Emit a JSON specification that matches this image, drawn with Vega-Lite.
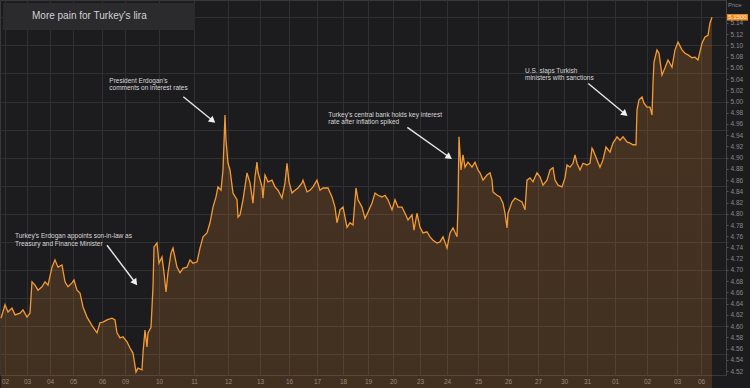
{
"$schema": "https://vega.github.io/schema/vega-lite/v6.json",
"width": 726, "height": 375, "padding": {"left": 0, "top": 0, "right": 24, "bottom": 13}, "autosize": "none",
"background": "#1c1c1f",
"config": {"view": {"stroke": "#38383b"}, "font": "Liberation Sans"},
"datasets": {
"price": [
{"d":-0.18,"v":4.614},{"d":0,"v":4.638},{"d":0.136,"v":4.625},{"d":0.318,"v":4.632},{"d":0.455,"v":4.620},{"d":0.682,"v":4.623},{"d":0.818,"v":4.629},{"d":1.0,"v":4.616},{"d":1.130,"v":4.623},{"d":1.217,"v":4.679},{"d":1.348,"v":4.673},{"d":1.478,"v":4.664},{"d":1.652,"v":4.670},{"d":1.783,"v":4.679},{"d":1.913,"v":4.673},{"d":2.087,"v":4.705},{"d":2.217,"v":4.718},{"d":2.348,"v":4.705},{"d":2.522,"v":4.709},{"d":2.652,"v":4.679},{"d":2.783,"v":4.670},{"d":2.957,"v":4.677},{"d":3.034,"v":4.682},{"d":3.138,"v":4.664},{"d":3.241,"v":4.659},{"d":3.345,"v":4.634},{"d":3.483,"v":4.616},{"d":3.586,"v":4.607},{"d":3.690,"v":4.598},{"d":3.828,"v":4.588},{"d":3.931,"v":4.606},{"d":4.043,"v":4.607},{"d":4.217,"v":4.611},{"d":4.435,"v":4.614},{"d":4.565,"v":4.611},{"d":4.652,"v":4.588},{"d":4.783,"v":4.579},{"d":4.913,"v":4.581},{"d":5.059,"v":4.572},{"d":5.147,"v":4.561},{"d":5.235,"v":4.552},{"d":5.324,"v":4.518},{"d":5.382,"v":4.525},{"d":5.5,"v":4.522},{"d":5.529,"v":4.552},{"d":5.588,"v":4.593},{"d":5.647,"v":4.563},{"d":5.676,"v":4.588},{"d":5.765,"v":4.598},{"d":5.824,"v":4.670},{"d":5.853,"v":4.741},{"d":5.941,"v":4.748},{"d":6.0,"v":4.712},{"d":6.086,"v":4.723},{"d":6.143,"v":4.695},{"d":6.2,"v":4.661},{"d":6.257,"v":4.695},{"d":6.343,"v":4.730},{"d":6.4,"v":4.739},{"d":6.514,"v":4.705},{"d":6.6,"v":4.695},{"d":6.686,"v":4.703},{"d":6.8,"v":4.705},{"d":6.886,"v":4.718},{"d":6.971,"v":4.712},{"d":7.088,"v":4.714},{"d":7.176,"v":4.739},{"d":7.265,"v":4.759},{"d":7.382,"v":4.766},{"d":7.471,"v":4.784},{"d":7.559,"v":4.812},{"d":7.647,"v":4.830},{"d":7.706,"v":4.848},{"d":7.794,"v":4.842},{"d":7.853,"v":4.878},{"d":7.912,"v":4.976},{"d":7.941,"v":4.931},{"d":8.0,"v":4.890},{"d":8.063,"v":4.878},{"d":8.156,"v":4.837},{"d":8.281,"v":4.825},{"d":8.313,"v":4.794},{"d":8.375,"v":4.798},{"d":8.469,"v":4.825},{"d":8.594,"v":4.873},{"d":8.688,"v":4.855},{"d":8.781,"v":4.819},{"d":8.844,"v":4.866},{"d":8.906,"v":4.892},{"d":8.938,"v":4.874},{"d":9.069,"v":4.848},{"d":9.103,"v":4.828},{"d":9.172,"v":4.869},{"d":9.276,"v":4.857},{"d":9.414,"v":4.860},{"d":9.517,"v":4.848},{"d":9.621,"v":4.842},{"d":9.759,"v":4.828},{"d":9.862,"v":4.855},{"d":9.931,"v":4.890},{"d":10.0,"v":4.857},{"d":10.107,"v":4.837},{"d":10.214,"v":4.842},{"d":10.321,"v":4.846},{"d":10.464,"v":4.855},{"d":10.5,"v":4.860},{"d":10.643,"v":4.839},{"d":10.75,"v":4.842},{"d":10.857,"v":4.848},{"d":11.0,"v":4.860},{"d":11.115,"v":4.842},{"d":11.231,"v":4.846},{"d":11.423,"v":4.846},{"d":11.577,"v":4.830},{"d":11.692,"v":4.812},{"d":11.769,"v":4.784},{"d":11.885,"v":4.807},{"d":12.0,"v":4.812},{"d":12.16,"v":4.776},{"d":12.28,"v":4.784},{"d":12.4,"v":4.780},{"d":12.52,"v":4.846},{"d":12.6,"v":4.825},{"d":12.76,"v":4.812},{"d":12.88,"v":4.792},{"d":13.0,"v":4.803},{"d":13.16,"v":4.819},{"d":13.28,"v":4.837},{"d":13.4,"v":4.833},{"d":13.56,"v":4.830},{"d":13.68,"v":4.833},{"d":13.8,"v":4.825},{"d":13.96,"v":4.807},{"d":14.074,"v":4.825},{"d":14.185,"v":4.812},{"d":14.333,"v":4.812},{"d":14.444,"v":4.801},{"d":14.556,"v":4.789},{"d":14.704,"v":4.798},{"d":14.778,"v":4.771},{"d":14.889,"v":4.801},{"d":15.0,"v":4.776},{"d":15.111,"v":4.766},{"d":15.259,"v":4.768},{"d":15.370,"v":4.759},{"d":15.481,"v":4.753},{"d":15.630,"v":4.748},{"d":15.741,"v":4.750},{"d":15.852,"v":4.759},{"d":16.0,"v":4.739},{"d":16.097,"v":4.766},{"d":16.194,"v":4.775},{"d":16.323,"v":4.759},{"d":16.355,"v":4.812},{"d":16.387,"v":4.937},{"d":16.452,"v":4.878},{"d":16.516,"v":4.905},{"d":16.581,"v":4.883},{"d":16.677,"v":4.892},{"d":16.806,"v":4.883},{"d":16.903,"v":4.892},{"d":17.0,"v":4.878},{"d":17.067,"v":4.873},{"d":17.167,"v":4.860},{"d":17.3,"v":4.869},{"d":17.4,"v":4.873},{"d":17.467,"v":4.860},{"d":17.5,"v":4.839},{"d":17.633,"v":4.833},{"d":17.733,"v":4.830},{"d":17.833,"v":4.819},{"d":17.9,"v":4.801},{"d":17.967,"v":4.775},{"d":18.0,"v":4.801},{"d":18.133,"v":4.821},{"d":18.233,"v":4.828},{"d":18.333,"v":4.825},{"d":18.467,"v":4.821},{"d":18.567,"v":4.807},{"d":18.633,"v":4.860},{"d":18.733,"v":4.864},{"d":18.833,"v":4.857},{"d":18.967,"v":4.873},{"d":19.077,"v":4.866},{"d":19.192,"v":4.851},{"d":19.346,"v":4.860},{"d":19.462,"v":4.878},{"d":19.577,"v":4.882},{"d":19.654,"v":4.860},{"d":19.769,"v":4.851},{"d":19.923,"v":4.848},{"d":20.043,"v":4.864},{"d":20.130,"v":4.887},{"d":20.261,"v":4.883},{"d":20.391,"v":4.890},{"d":20.478,"v":4.905},{"d":20.565,"v":4.890},{"d":20.696,"v":4.878},{"d":20.826,"v":4.890},{"d":21.0,"v":4.887},{"d":21.107,"v":4.890},{"d":21.179,"v":4.917},{"d":21.214,"v":4.914},{"d":21.357,"v":4.896},{"d":21.464,"v":4.883},{"d":21.571,"v":4.896},{"d":21.679,"v":4.919},{"d":21.821,"v":4.910},{"d":21.929,"v":4.926},{"d":22.063,"v":4.937},{"d":22.156,"v":4.931},{"d":22.25,"v":4.937},{"d":22.375,"v":4.928},{"d":22.469,"v":4.926},{"d":22.563,"v":4.923},{"d":22.656,"v":4.923},{"d":22.688,"v":4.985},{"d":22.75,"v":5.003},{"d":22.844,"v":5.008},{"d":22.906,"v":4.997},{"d":23.0,"v":4.990},{"d":23.1,"v":4.990},{"d":23.167,"v":4.976},{"d":23.2,"v":5.033},{"d":23.233,"v":5.070},{"d":23.333,"v":5.092},{"d":23.4,"v":5.086},{"d":23.5,"v":5.047},{"d":23.6,"v":5.060},{"d":23.7,"v":5.074},{"d":23.833,"v":5.061},{"d":23.933,"v":5.092},{"d":24.042,"v":5.106},{"d":24.208,"v":5.092},{"d":24.333,"v":5.086},{"d":24.458,"v":5.083},{"d":24.625,"v":5.078},{"d":24.75,"v":5.079},{"d":24.875,"v":5.074},{"d":25.037,"v":5.104},{"d":25.148,"v":5.115},{"d":25.259,"v":5.118},{"d":25.333,"v":5.140},{"d":25.407,"v":5.150}
],
"notes": [
{"d":0.455,"v":4.765,"label":"Turkey's Erdogan appoints son-in-law as\nTreasury and Finance Minister"},
{"d":4.317,"v":5.042,"label":"President Erdogan's\ncomments on interest rates"},
{"d":11.435,"v":4.982,"label":"Turkey's central bank holds key interest\nrate after inflation spiked"},
{"d":18.567,"v":5.060,"label":"U.S. slaps Turkish\nministers with sanctions"}
],
"arrows": [
{"d":4.217,"v":4.744,"d2":5.282,"v2":4.679,"angle":143},
{"d":6.694,"v":5.0085,"d2":7.526,"v2":4.967,"angle":129},
{"d":14.530,"v":4.954,"d2":16.045,"v2":4.902,"angle":125},
{"d":21.046,"v":5.032,"d2":22.288,"v2":4.979,"angle":130}
],
"titlebox": [{"d":-0.091,"d2":7.029,"v":5.1754,"v2":5.1273}],
"titletext": [{"d":1.217,"v":5.152,"label":"More pain for Turkey's lira"}],
"pricebox": [{"d":25.963,"d2":26.741,"v":5.1558,"v2":5.1442}],
"pricetext": [{"d":26.35,"v":5.150,"label":"5.1500"}],
"header": [{"d":26.0,"v":5.172,"label":"Price"}]
},
"resolve": {"axis": {"x": "independent", "y": "independent"}},
"layer": [
{
"data": {"name": "price"},
"mark": {"type": "area", "fill": {"gradient": "linear", "x1": 0, "y1": 0, "x2": 0, "y2": 1, "stops": [{"offset": 0, "color": "rgba(240,140,40,0.20)"}, {"offset": 1, "color": "rgba(240,140,40,0.02)"}]}},
"encoding": {
"x": {"field": "d", "type": "quantitative", "scale": {"domain":[-0.227,0,1,2,3,4,5,6,7,8,9,10,11,12,13,14,15,16,17,18,19,20,21,22,23,24,25,26],"range":[0,5,27,50,73,102,125,159,194,228,260,289,317,343,368,393,420,447,478,508,538,564,587,615,647,677,701,728],"nice":false,"zero":false},
"axis": {"orient": "bottom", "title": null, "values": [0,1,2,3,4,5,6,7,8,9,10,11,12,13,14,15,16,17,18,19,20,21,22,23,24,25], "labelExpr": "['02','03','04','05','06','09','10','11','12','13','16','17','18','19','20','23','24','25','26','27','30','31','01','02','03','06'][datum.value]", "grid": true, "gridColor": "#303033", "ticks": false, "domain": false, "labelFontSize": 6.5, "labelColor": "#8a8a8a", "labelPadding": 3, "labelFlush": false, "labelOverlap": false}},
"y": {"field": "v", "type": "quantitative", "scale": {"domain": [4.5129, 5.1808], "nice": false, "zero": false},
"axis": {"orient": "left", "title": null, "values": [4.55,4.6,4.65,4.7,4.75,4.8,4.85,4.9,4.95,5.0,5.05,5.1,5.15], "grid": true, "gridColor": "#303033", "labels": false, "ticks": false, "domain": false}}
}
},
{
"data": {"name": "price"},
"mark": {"type": "line", "color": "#f39a35", "strokeWidth": 1.3},
"encoding": {
"x": {"field": "d", "type": "quantitative", "scale": {"domain":[-0.227,0,1,2,3,4,5,6,7,8,9,10,11,12,13,14,15,16,17,18,19,20,21,22,23,24,25,26],"range":[0,5,27,50,73,102,125,159,194,228,260,289,317,343,368,393,420,447,478,508,538,564,587,615,647,677,701,728],"nice":false,"zero":false}, "axis": null},
"y": {"field": "v", "type": "quantitative", "scale": {"domain": [4.5129, 5.1808], "nice": false, "zero": false},
"axis": {"orient": "right", "title": null, "values": [4.52,4.54,4.56,4.58,4.6,4.62,4.64,4.66,4.68,4.7,4.72,4.74,4.76,4.78,4.8,4.82,4.84,4.86,4.88,4.9,4.92,4.94,4.96,4.98,5.0,5.02,5.04,5.06,5.08,5.1,5.12,5.14], "format": ".2f", "grid": false, "ticks": true, "tickSize": 2, "tickColor": "#555", "domain": true, "domainColor": "#444", "labelFontSize": 6.5, "labelColor": "#8a8a8a", "labelPadding": 2, "labelOverlap": false, "labelFlush": false}}
}
},
{
"data": {"name": "arrows"},
"mark": {"type": "rule", "color": "#e6e6e6", "strokeWidth": 1.4},
"encoding": {
"x": {"field": "d", "type": "quantitative", "scale": {"domain":[-0.227,0,1,2,3,4,5,6,7,8,9,10,11,12,13,14,15,16,17,18,19,20,21,22,23,24,25,26],"range":[0,5,27,50,73,102,125,159,194,228,260,289,317,343,368,393,420,447,478,508,538,564,587,615,647,677,701,728],"nice":false,"zero":false}, "axis": null},
"x2": {"field": "d2"},
"y": {"field": "v", "type": "quantitative", "scale": {"domain": [4.5129, 5.1808], "nice": false, "zero": false}, "axis": null},
"y2": {"field": "v2"}
}
},
{
"data": {"name": "arrows"},
"mark": {"type": "point", "shape": "triangle", "filled": true, "color": "#f0f0f0", "opacity": 1, "size": 55},
"encoding": {
"x": {"field": "d2", "type": "quantitative", "scale": {"domain":[-0.227,0,1,2,3,4,5,6,7,8,9,10,11,12,13,14,15,16,17,18,19,20,21,22,23,24,25,26],"range":[0,5,27,50,73,102,125,159,194,228,260,289,317,343,368,393,420,447,478,508,538,564,587,615,647,677,701,728],"nice":false,"zero":false}, "axis": null},
"y": {"field": "v2", "type": "quantitative", "scale": {"domain": [4.5129, 5.1808], "nice": false, "zero": false}, "axis": null},
"angle": {"field": "angle", "type": "quantitative", "scale": null}
}
},
{
"data": {"name": "notes"},
"mark": {"type": "text", "align": "left", "baseline": "top", "fontSize": 6.5, "lineHeight": 7.5, "lineBreak": "\n", "color": "#d8d8d8"},
"encoding": {
"x": {"field": "d", "type": "quantitative", "scale": {"domain":[-0.227,0,1,2,3,4,5,6,7,8,9,10,11,12,13,14,15,16,17,18,19,20,21,22,23,24,25,26],"range":[0,5,27,50,73,102,125,159,194,228,260,289,317,343,368,393,420,447,478,508,538,564,587,615,647,677,701,728],"nice":false,"zero":false}, "axis": null},
"y": {"field": "v", "type": "quantitative", "scale": {"domain": [4.5129, 5.1808], "nice": false, "zero": false}, "axis": null},
"text": {"field": "label"}
}
},
{
"data": {"name": "titlebox"},
"mark": {"type": "rect", "color": "#2b2b2e"},
"encoding": {
"x": {"field": "d", "type": "quantitative", "scale": {"domain":[-0.227,0,1,2,3,4,5,6,7,8,9,10,11,12,13,14,15,16,17,18,19,20,21,22,23,24,25,26],"range":[0,5,27,50,73,102,125,159,194,228,260,289,317,343,368,393,420,447,478,508,538,564,587,615,647,677,701,728],"nice":false,"zero":false}, "axis": null},
"x2": {"field": "d2"},
"y": {"field": "v", "type": "quantitative", "scale": {"domain": [4.5129, 5.1808], "nice": false, "zero": false}, "axis": null},
"y2": {"field": "v2"}
}
},
{
"data": {"name": "titletext"},
"mark": {"type": "text", "align": "left", "baseline": "middle", "fontSize": 10, "color": "#d2d2d2"},
"encoding": {
"x": {"field": "d", "type": "quantitative", "scale": {"domain":[-0.227,0,1,2,3,4,5,6,7,8,9,10,11,12,13,14,15,16,17,18,19,20,21,22,23,24,25,26],"range":[0,5,27,50,73,102,125,159,194,228,260,289,317,343,368,393,420,447,478,508,538,564,587,615,647,677,701,728],"nice":false,"zero":false}, "axis": null},
"y": {"field": "v", "type": "quantitative", "scale": {"domain": [4.5129, 5.1808], "nice": false, "zero": false}, "axis": null},
"text": {"field": "label"}
}
},
{
"data": {"name": "pricebox"},
"mark": {"type": "rect", "color": "#ef8a1f"},
"encoding": {
"x": {"field": "d", "type": "quantitative", "scale": {"domain":[-0.227,0,1,2,3,4,5,6,7,8,9,10,11,12,13,14,15,16,17,18,19,20,21,22,23,24,25,26],"range":[0,5,27,50,73,102,125,159,194,228,260,289,317,343,368,393,420,447,478,508,538,564,587,615,647,677,701,728],"nice":false,"zero":false}, "axis": null},
"x2": {"field": "d2"},
"y": {"field": "v", "type": "quantitative", "scale": {"domain": [4.5129, 5.1808], "nice": false, "zero": false}, "axis": null},
"y2": {"field": "v2"}
}
},
{
"data": {"name": "pricetext"},
"mark": {"type": "text", "align": "center", "baseline": "middle", "fontSize": 6, "color": "#fff4e4"},
"encoding": {
"x": {"field": "d", "type": "quantitative", "scale": {"domain":[-0.227,0,1,2,3,4,5,6,7,8,9,10,11,12,13,14,15,16,17,18,19,20,21,22,23,24,25,26],"range":[0,5,27,50,73,102,125,159,194,228,260,289,317,343,368,393,420,447,478,508,538,564,587,615,647,677,701,728],"nice":false,"zero":false}, "axis": null},
"y": {"field": "v", "type": "quantitative", "scale": {"domain": [4.5129, 5.1808], "nice": false, "zero": false}, "axis": null},
"text": {"field": "label"}
}
},
{
"data": {"name": "header"},
"mark": {"type": "text", "align": "left", "baseline": "middle", "fontSize": 6, "color": "#8a8a8a"},
"encoding": {
"x": {"field": "d", "type": "quantitative", "scale": {"domain":[-0.227,0,1,2,3,4,5,6,7,8,9,10,11,12,13,14,15,16,17,18,19,20,21,22,23,24,25,26],"range":[0,5,27,50,73,102,125,159,194,228,260,289,317,343,368,393,420,447,478,508,538,564,587,615,647,677,701,728],"nice":false,"zero":false}, "axis": null},
"y": {"field": "v", "type": "quantitative", "scale": {"domain": [4.5129, 5.1808], "nice": false, "zero": false}, "axis": null},
"text": {"field": "label"}
}
}
]
}
